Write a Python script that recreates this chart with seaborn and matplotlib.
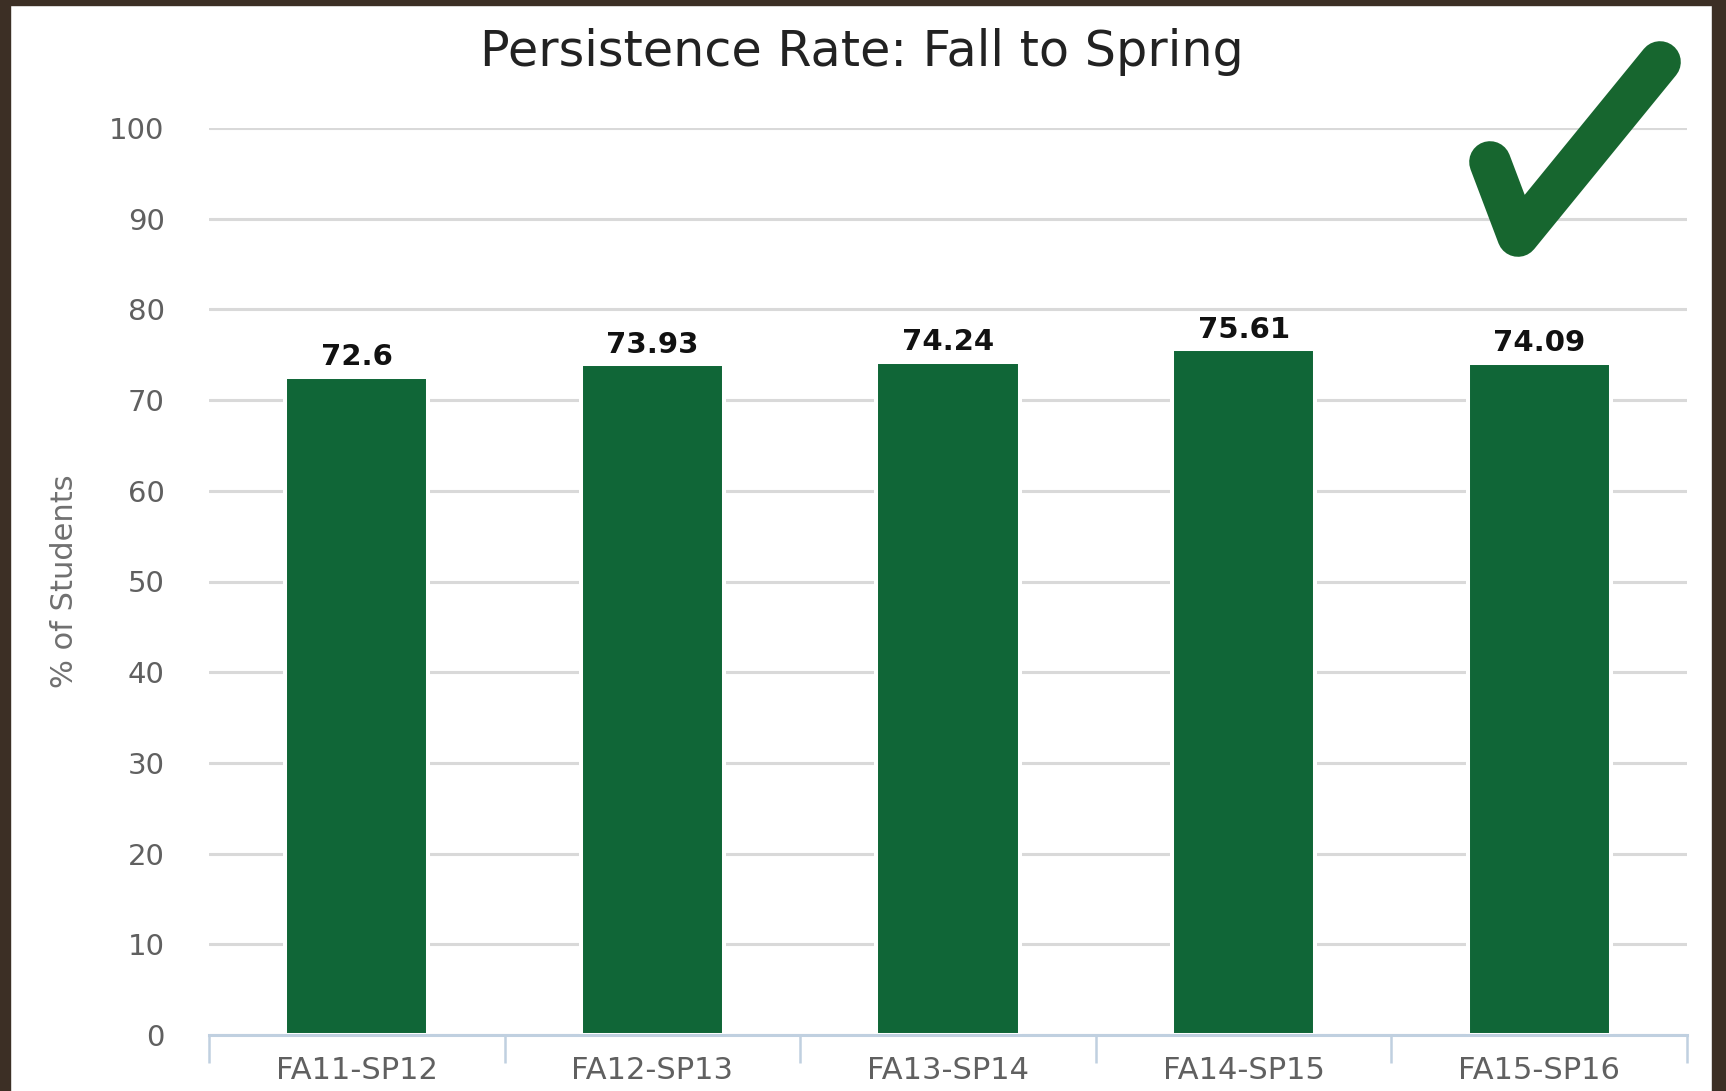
import numpy as np
import pandas as pd
import matplotlib
matplotlib.use("Agg")
import matplotlib.pyplot as plt
import seaborn as sns
from matplotlib.lines import Line2D
from matplotlib.patches import Rectangle
from matplotlib.ticker import MultipleLocator, FixedLocator

# ---------------- data ----------------
terms = ["FA11-SP12", "FA12-SP13", "FA13-SP14", "FA14-SP15", "FA15-SP16"]
rates = [72.6, 73.93, 74.24, 75.61, 74.09]
rate_labels = ["72.6", "73.93", "74.24", "75.61", "74.09"]

BAR_GREEN = "#106637"
GRID_GRAY = "#d9d9d9"
AXIS_BLUE = "#c0d0e0"
BORDER = "#3c2f25"

sns.set_style("white")
plt.rcParams["font.family"] = ["DejaVu Sans"]

W, H = 1726, 1091
fig = plt.figure(figsize=(W / 100, H / 100), dpi=100)
ax = fig.add_axes([209 / W, 1 - 1035 / H, (1687 - 209) / W, (1035 - 128) / H])

df = pd.DataFrame({"term": terms, "rate": rates})
sns.barplot(data=df, x="term", y="rate", color=BAR_GREEN, saturation=1,
            width=0.485, edgecolor="white", linewidth=2.9, ax=ax, zorder=3)

ax.set_ylim(0, 100)
ax.set_xlim(-0.5, len(terms) - 0.5)
ax.yaxis.set_major_locator(MultipleLocator(10))
ax.grid(axis="y", color=GRID_GRAY, linewidth=2.2, zorder=0)
ax.set_axisbelow(True)

for s in ["top", "right", "left"]:
    ax.spines[s].set_visible(False)
ax.spines["bottom"].set_color(AXIS_BLUE)
ax.spines["bottom"].set_linewidth(2.2)
ax.spines["bottom"].set_zorder(4)

# category boundary ticks below the axis
ax.xaxis.set_minor_locator(FixedLocator(np.arange(-0.5, len(terms), 1.0)))
ax.tick_params(axis="x", which="minor", bottom=True, length=20, width=1.8,
               color=AXIS_BLUE, direction="out")
ax.tick_params(axis="x", which="major", bottom=True, length=0, pad=15,
               labelsize=22, labelcolor="#606060")
ax.tick_params(axis="y", length=0, pad=32, labelsize=21, labelcolor="#606060")

ax.set_xlabel("")
ax.set_ylabel("% of Students", fontsize=22, color="#707070")
ax.yaxis.set_label_coords(-0.088, 0.5)

ax.bar_label(ax.containers[0], labels=rate_labels, padding=4,
             fontsize=21, fontweight="bold", color="#111111")

fig.text(862 / W, 1 - 52 / H, "Persistence Rate: Fall to Spring",
         ha="center", va="center", fontsize=35.5, color="#222222")

# checkmark decoration (figure pixel coords)
def px(x, y):
    return x / W, 1 - y / H

cx, cy = zip(px(1490, 162), px(1518, 236), px(1660, 62))
fig.add_artist(Line2D(cx, cy, transform=fig.transFigure, color="#17662f",
                      linewidth=30, solid_capstyle="round", solid_joinstyle="round"))

# dark frame
fig.add_artist(Rectangle((0, 0), 10 / W, 1, transform=fig.transFigure, color=BORDER))
fig.add_artist(Rectangle((0, 1 - 5 / H), 1, 5 / H, transform=fig.transFigure, color=BORDER))
fig.add_artist(Rectangle((1712 / W, 0), 14 / W, 1, transform=fig.transFigure, color=BORDER))

fig.savefig("out.png", dpi=100)
plt.close(fig)
